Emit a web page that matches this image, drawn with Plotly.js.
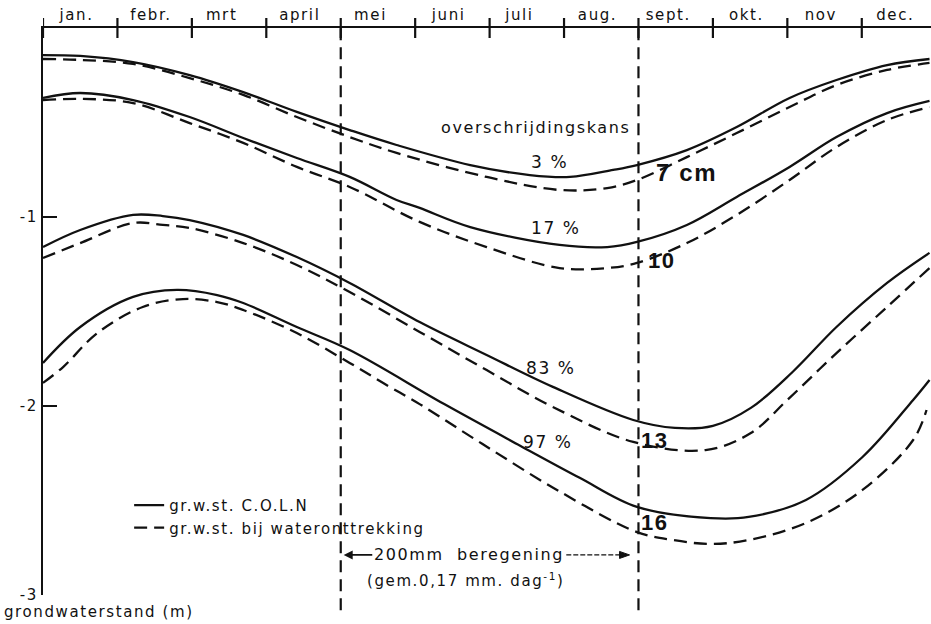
<!DOCTYPE html>
<html>
<head>
<meta charset="utf-8">
<script src="https://cdn.plot.ly/plotly-3.0.1.min.js"></script>
<style>
html,body{margin:0;padding:0;background:#fff}
#chart{width:931px;height:624px}
svg text{letter-spacing:1.6px}
</style>
</head>
<body>
<div id="chart"></div>
<script>
// ---- data (months since 1 Jan; groundwater level in m) ----
const monthLabels = ['jan.','febr.','mrt','april','mei','juni','juli','aug.','sept.','okt.','nov','dec.'];
const monthStarts = [0,1,2,3,4,5,6,7,8,9,10,11];
const monthCenters = [0.45,1.45,2.4,3.45,4.4,5.45,6.4,7.45,8.4,9.45,10.45,11.45];
const irrigationPeriod = [4, 8];
const yTickVals = [-1, -2, -3];
const yTickText = ['-1', '-2', '-3'];

// 3 % exceedance
const sol3M = [0,0.5,1.21,1.97,2.69,3.41,4.12,4.75,5.74,6.54,7.08,7.66,7.98,8.65,9.32,10.03,10.66,11.34,11.91];
const sol3V = [-0.143,-0.148,-0.18,-0.249,-0.339,-0.444,-0.54,-0.619,-0.725,-0.778,-0.788,-0.751,-0.725,-0.646,-0.524,-0.370,-0.275,-0.196,-0.164];
const dash3M = [0,0.5,1.21,1.97,2.69,3.41,4.12,4.75,5.96,6.94,7.58,7.98,8.65,9.32,10.03,10.66,11.34,11.91];
const dash3V = [-0.164,-0.169,-0.19,-0.265,-0.354,-0.471,-0.577,-0.661,-0.788,-0.857,-0.847,-0.804,-0.683,-0.556,-0.418,-0.302,-0.222,-0.185];

// 17 % exceedance
const sol17M = [0,0.5,1.21,1.97,2.69,3.41,4.12,4.75,5.06,5.74,6.94,7.58,7.98,8.65,9.32,10.03,10.66,11.34,11.91];
const sol17V = [-0.370,-0.344,-0.381,-0.471,-0.582,-0.688,-0.788,-0.910,-0.952,-1.053,-1.148,-1.159,-1.132,-1.042,-0.894,-0.735,-0.577,-0.450,-0.386];
const dash17M = [0,0.5,1.21,1.97,2.69,3.41,4.12,5.06,5.96,6.94,7.58,7.98,8.65,9.32,10.03,10.66,11.34,11.91];
const dash17V = [-0.381,-0.375,-0.397,-0.503,-0.608,-0.735,-0.841,-1.026,-1.159,-1.270,-1.270,-1.243,-1.138,-0.989,-0.804,-0.630,-0.487,-0.418];

// 83 % exceedance
const sol83M = [0,0.5,1.21,1.61,1.97,2.69,3.41,4.12,5.06,5.96,6.85,7.93,8.49,9.0,9.51,10.07,10.66,11.34,11.91];
const sol83V = [-1.159,-1.069,-0.989,-0.995,-1.016,-1.095,-1.212,-1.349,-1.556,-1.730,-1.899,-2.074,-2.116,-2.105,-2.01,-1.820,-1.582,-1.349,-1.190];
const dash83M = [0,0.5,1.21,1.61,1.97,2.69,3.41,4.12,5.06,5.96,6.85,7.93,8.9,9.51,10.0,10.66,11.34,11.91];
const dash83V = [-1.217,-1.138,-1.032,-1.042,-1.058,-1.138,-1.254,-1.397,-1.608,-1.810,-2.005,-2.190,-2.233,-2.143,-1.968,-1.720,-1.476,-1.270];

// 97 % exceedance
const sol97M = [0,0.5,1.21,1.8,2.34,2.69,3.41,4.12,5.39,6.41,7.21,7.98,8.97,9.48,10.25,11.01,11.69,11.91];
const sol97V = [-1.772,-1.582,-1.423,-1.386,-1.413,-1.455,-1.582,-1.704,-1.99,-2.21,-2.38,-2.534,-2.593,-2.587,-2.497,-2.270,-1.968,-1.862];
const dash97M = [0,0.27,0.73,1.34,1.88,2.34,2.69,3.41,4.12,4.62,5.06,5.9,6.93,7.98,8.46,8.97,9.48,10.25,11.01,11.69,11.87];
const dash97V = [-1.878,-1.794,-1.614,-1.476,-1.434,-1.450,-1.492,-1.614,-1.772,-1.89,-1.99,-2.20,-2.45,-2.667,-2.709,-2.730,-2.709,-2.619,-2.444,-2.180,-2.021];

// labels
const pctLabels = ['3 %', '17 %', '83 %', '97 %'];
const depthLabels = ['7 cm', '10', '13', '16'];
const legendNames = ['gr.w.st. C.O.L.N', 'gr.w.st. bij wateronttrekking'];

// ---- drawing ----
const BLACK = '#111';
const FONT = 'DejaVu Sans, sans-serif';
const solidLine = {color: BLACK, width: 2.3, shape: 'spline', smoothing: 1};
const dashLine = {color: BLACK, width: 2.3, shape: 'spline', smoothing: 1, dash: '13px,7px'};

const series = [
  [sol3M, sol3V, dash3M, dash3V],
  [sol17M, sol17V, dash17M, dash17V],
  [sol83M, sol83V, dash83M, dash83V],
  [sol97M, sol97V, dash97M, dash97V]
];
const traces = [];
series.forEach((s, i) => {
  traces.push({x: s[0], y: s[1], mode: 'lines', line: solidLine, name: legendNames[0], showlegend: i === 0, hoverinfo: 'skip'});
});
series.forEach((s, i) => {
  traces.push({x: s[2], y: s[3], mode: 'lines', line: dashLine, name: legendNames[1], showlegend: i === 0, hoverinfo: 'skip'});
});

const shapes = [];
monthStarts.forEach(m => {
  shapes.push({type: 'line', xref: 'x', x0: m, x1: m, yref: 'paper', ysizemode: 'pixel', yanchor: 1, y0: -10, y1: 10, line: {color: BLACK, width: 2.2}});
});
irrigationPeriod.forEach(m => {
  shapes.push({type: 'line', xref: 'x', x0: m, x1: m, yref: 'paper', y0: -0.027, y1: 1, line: {color: BLACK, width: 2.2, dash: '12px,7px'}});
});
// right-hand arrow of the irrigation span (thin dotted line with head)
const arrowY = -2.788;
shapes.push({type: 'line', xref: 'x', yref: 'y', x0: 7.03, x1: irrigationPeriod[1] - 0.16, y0: arrowY, y1: arrowY, line: {color: BLACK, width: 1.3, dash: '5px,2px'}});
shapes.push({type: 'path', xref: 'x', yref: 'y', xsizemode: 'pixel', ysizemode: 'pixel', xanchor: irrigationPeriod[1] - 0.12, yanchor: arrowY, path: 'M0,0 L-10,-3.5 L-10,3.5 Z', fillcolor: BLACK, line: {color: BLACK, width: 1}});

const pctPos = [[6.81, -0.709], [6.89, -1.058], [6.82, -1.799], [6.78, -2.19]];
const depthPos = [[8.64, -0.767], [8.31, -1.228], [8.22, -2.18], [8.22, -2.614]];
const annotations = [];
pctLabels.forEach((t, i) => annotations.push({x: pctPos[i][0], y: pctPos[i][1], xref: 'x', yref: 'y', text: t, showarrow: false, font: {family: FONT, size: 17, color: BLACK}}));
depthLabels.forEach((t, i) => annotations.push({x: depthPos[i][0], y: depthPos[i][1], xref: 'x', yref: 'y', text: t, showarrow: false, font: {family: 'Liberation Sans, Arial, sans-serif', size: i === 0 ? 24 : 22, weight: 'bold', color: BLACK}}));
annotations.push({x: 6.61, y: -0.529, xref: 'x', yref: 'y', text: 'overschrijdingskans', showarrow: false, font: {family: FONT, size: 16, color: BLACK}});
annotations.push({x: irrigationPeriod[0] + 0.04, y: arrowY, xref: 'x', yref: 'y', ax: 5.72, ay: arrowY, axref: 'x', ayref: 'y', text: '200mm  beregening', showarrow: true, arrowhead: 2, arrowsize: 1, arrowwidth: 1.8, arrowcolor: BLACK, standoff: 0, font: {family: FONT, size: 16, color: BLACK}});
annotations.push({x: 5.68, y: -2.921, xref: 'x', yref: 'y', text: '(gem.0,17 mm. dag<sup>-1</sup>)', showarrow: false, font: {family: FONT, size: 15, color: BLACK}});
annotations.push({x: -0.046, y: -0.011, xref: 'paper', yref: 'paper', xanchor: 'left', yanchor: 'top', text: 'grondwaterstand (m)', showarrow: false, font: {family: FONT, size: 15, color: BLACK}});

const layout = {
  width: 931, height: 624,
  margin: {l: 43, r: 0, t: 28, b: 29},
  paper_bgcolor: '#fff', plot_bgcolor: '#fff',
  font: {family: FONT, color: BLACK},
  showlegend: true,
  legend: {x: 0.097, y: 0.187, xanchor: 'left', yanchor: 'top', bgcolor: 'rgba(0,0,0,0)', font: {family: FONT, size: 15, color: BLACK}, tracegroupgap: 0},
  xaxis: {
    range: [0, 11.93], side: 'top', showline: true, linecolor: BLACK, linewidth: 2.2,
    tickvals: monthCenters, ticktext: monthLabels, ticks: '', showgrid: false, zeroline: false,
    tickfont: {family: FONT, size: 15, color: BLACK}, fixedrange: true
  },
  yaxis: {
    range: [-3, 0], showline: true, linecolor: BLACK, linewidth: 2.2,
    tickvals: yTickVals, ticktext: yTickText, ticks: 'inside', ticklen: 14, tickwidth: 2.2, tickcolor: BLACK,
    showgrid: false, zeroline: false, tickfont: {family: FONT, size: 15, color: BLACK}, fixedrange: true
  },
  shapes: shapes,
  annotations: annotations
};

Plotly.newPlot('chart', traces, layout, {displayModeBar: false, staticPlot: true});
</script>
</body>
</html>
